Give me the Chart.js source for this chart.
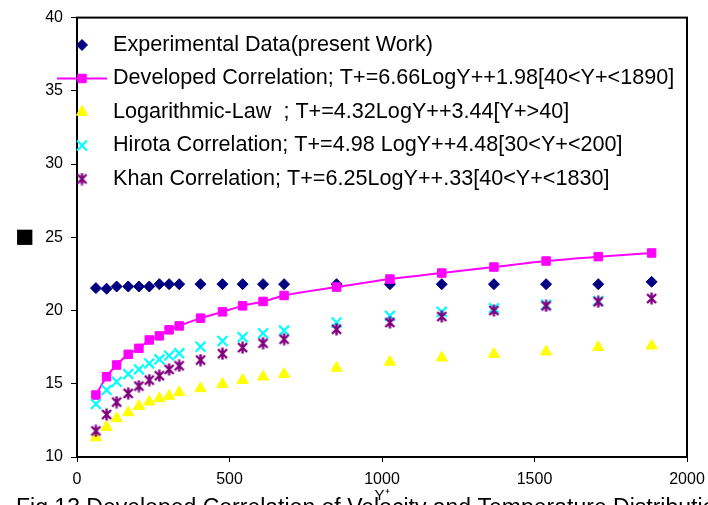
<!DOCTYPE html>
<html>
<head>
<meta charset="utf-8">
<script src="https://cdn.jsdelivr.net/npm/chart.js@4.4.0/dist/chart.umd.min.js"></script>
<style>
  html, body { margin: 0; padding: 0; background: #fff; }
</style>
</head>
<body>
<canvas id="grafico" width="708" height="505"></canvas>
<script>
// valores (Y+ no eixo x, T+ no eixo y)
const yPlus = [62, 97, 130, 168, 203, 237, 270, 302, 335, 405, 477, 543, 610, 679, 851, 1026, 1196, 1367, 1538, 1709, 1884];

const experimental = [21.53, 21.49, 21.64, 21.64, 21.64, 21.64, 21.8, 21.8, 21.8, 21.8, 21.8, 21.8, 21.8, 21.8, 21.8, 21.8, 21.8, 21.8, 21.8, 21.8, 21.96];
const desenvolvida = [14.23, 15.48, 16.28, 17.01, 17.42, 17.99, 18.27, 18.68, 18.95, 19.48, 19.91, 20.32, 20.62, 21.03, 21.6, 22.15, 22.56, 22.97, 23.38, 23.68, 23.93];
const logLaw = [11.33, 12.05, 12.63, 13.04, 13.47, 13.77, 14.0, 14.16, 14.41, 14.68, 14.98, 15.25, 15.48, 15.66, 16.08, 16.49, 16.78, 17.03, 17.19, 17.49, 17.6];
const hirota = [13.61, 14.57, 15.14, 15.66, 15.98, 16.39, 16.67, 16.92, 17.08, 17.53, 17.92, 18.18, 18.45, 18.63, 19.18, 19.64, 19.91, 20.16, 20.39, 20.66, null];
const khan = [11.78, 12.9, 13.75, 14.34, 14.84, 15.25, 15.55, 15.98, 16.23, 16.62, 17.05, 17.47, 17.77, 18.04, 18.72, 19.18, 19.59, 20.0, 20.32, 20.6, 20.82];

const nomesSeries = [
  'Experimental Data(present Work)',
  'Developed Correlation; T+=6.66LogY++1.98[40<Y+<1890]',
  'Logarithmic-Law  ; T+=4.32LogY++3.44[Y+>40]',
  'Hirota Correlation; T+=4.98 LogY++4.48[30<Y+<200]',
  'Khan Correlation; T+=6.25LogY++.33[40<Y+<1830]'
];

const ticksX = [0, 500, 1000, 1500, 2000];
const ticksY = [10, 15, 20, 25, 30, 35, 40];

const tituloY = '■';
const tituloX = 'Y⁺';
const legenda = 'Fig.13 Developed Correlation of Velocity and Temperature Distribution';

function pontos(valores) {
  let lista = [];
  for (let i = 0; i < yPlus.length; i++) {
    if (valores[i] != null) lista.push({ x: yPlus[i], y: valores[i] });
  }
  return lista;
}

// marcador estrela do excel (X com traço vertical)
function criarEstrela(cor) {
  const c = document.createElement('canvas');
  c.width = 13; c.height = 13;
  const g = c.getContext('2d');
  g.strokeStyle = cor;
  g.lineWidth = 2.4;
  g.beginPath();
  g.moveTo(2, 2); g.lineTo(11, 11);
  g.moveTo(11, 2); g.lineTo(2, 11);
  g.moveTo(6.5, 0.5); g.lineTo(6.5, 12.5);
  g.stroke();
  return c;
}
const estrelaKhan = criarEstrela('#800080');

let dados = {
  datasets: [
    {
      label: nomesSeries[0], data: pontos(experimental),
      pointStyle: 'rectRot', pointRadius: 5.5, borderWidth: 1,
      backgroundColor: '#000080', borderColor: '#000080', order: 5
    },
    {
      label: nomesSeries[1], data: pontos(desenvolvida),
      showLine: true, cubicInterpolationMode: 'monotone', borderWidth: 2,
      pointStyle: 'rect', pointRadius: 6, pointBorderWidth: 1,
      backgroundColor: '#FF00FF', borderColor: '#FF00FF', order: 4
    },
    {
      label: nomesSeries[2], data: pontos(logLaw),
      pointStyle: 'triangle', pointRadius: 6.5, borderWidth: 1,
      backgroundColor: '#FFFF00', borderColor: '#FFFF00', order: 3
    },
    {
      label: nomesSeries[3], data: pontos(hirota),
      pointStyle: 'crossRot', pointRadius: 7, borderWidth: 2.2,
      backgroundColor: '#00FFFF', borderColor: '#00FFFF', order: 2
    },
    {
      label: nomesSeries[4], data: pontos(khan),
      pointStyle: estrelaKhan, pointRadius: 6.5, borderWidth: 0,
      backgroundColor: '#800080', borderColor: '#800080', order: 1
    }
  ]
};

// moldura preta em volta da area do grafico
const moldura = {
  id: 'moldura',
  afterDatasetsDraw(chart) {
    const { ctx, chartArea: a } = chart;
    ctx.save();
    ctx.strokeStyle = '#000';
    ctx.lineWidth = 2;
    ctx.strokeRect(a.left, a.top, a.right - a.left, a.bottom - a.top);
    ctx.restore();
  }
};

// legenda desenhada dentro da area do grafico
const legendaInterna = {
  id: 'legendaInterna',
  afterDraw(chart) {
    const ctx = chart.ctx;
    const a = chart.chartArea;
    ctx.save();
    ctx.font = '21.6px "Liberation Sans", Arial, sans-serif';
    ctx.textBaseline = 'middle';
    ctx.textAlign = 'left';
    chart.data.datasets.forEach(function (ds, i) {
      const y = 45 + i * 33.5;
      const xm = a.left + 5;
      if (ds.showLine) {
        ctx.strokeStyle = ds.borderColor;
        ctx.lineWidth = 2;
        ctx.beginPath();
        ctx.moveTo(xm - 25, y);
        ctx.lineTo(xm + 25, y);
        ctx.stroke();
      }
      ctx.fillStyle = ds.backgroundColor;
      ctx.strokeStyle = ds.borderColor;
      let bw = ds.pointStyle === 'crossRot' ? 2.2 : 1;
      ctx.lineWidth = bw;
      Chart.helpers.drawPoint(ctx, {
        pointStyle: ds.pointStyle,
        radius: ds.pointRadius,
        rotation: 0,
        borderWidth: bw
      }, xm, y);
      ctx.fillStyle = '#000';
      ctx.fillText(ds.label, 113, y);
    });
    // legenda da figura, cortada na borda de baixo
    ctx.font = '23px "Liberation Sans", Arial, sans-serif';
    ctx.textBaseline = 'top';
    ctx.fillText(legenda, 16, 497);
    ctx.restore();
  }
};

const fonteTicks = { family: '"Liberation Sans", Arial, sans-serif', size: 16 };

const options = {
  responsive: false,
  animation: false,
  layout: { padding: { top: 16, right: 21, left: 0, bottom: 0 } },
  plugins: { legend: { display: false }, tooltip: { enabled: false } },
  scales: {
    x: {
      type: 'linear', min: 0, max: 2000,
      afterFit(s) { s.height = 48; s.paddingRight = 0; },
      afterBuildTicks(s) { s.ticks = ticksX.map(v => ({ value: v })); },
      grid: { drawOnChartArea: false, drawTicks: true, tickLength: 5, color: '#000' },
      border: { color: '#000', width: 2 },
      ticks: { color: '#000', font: fonteTicks, padding: 8, maxRotation: 0, callback: v => String(v) },
      title: {
        display: true, text: tituloX, color: '#000',
        font: { family: '"Liberation Sans", Arial, sans-serif', size: 15, lineHeight: 1.2 },
        padding: { top: 0, bottom: 0 }
      }
    },
    y: {
      type: 'linear', min: 10, max: 40,
      afterFit(s) { s.width = 77; },
      afterBuildTicks(s) { s.ticks = ticksY.map(v => ({ value: v })); },
      grid: { drawOnChartArea: false, drawTicks: true, tickLength: 6, color: '#000' },
      border: { color: '#000', width: 2 },
      ticks: { color: '#000', font: fonteTicks, padding: 8, callback: v => String(v) },
      title: {
        display: true, text: tituloY, color: '#000',
        font: { family: '"DejaVu Sans", sans-serif', size: 20, lineHeight: 1 },
        padding: { top: 15, bottom: 0 }
      }
    }
  }
};

let myChart = new Chart(document.getElementById('grafico'), {
  type: 'scatter',
  data: dados,
  options: options,
  plugins: [moldura, legendaInterna]
});
</script>
</body>
</html>
